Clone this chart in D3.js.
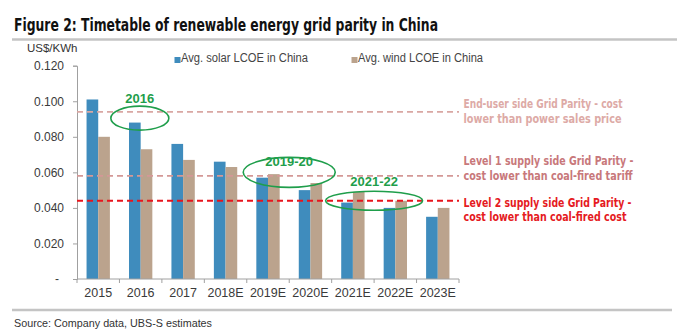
<!DOCTYPE html>
<html>
<head>
<meta charset="utf-8">
<script src="https://cdn.jsdelivr.net/npm/d3@7"></script>
<style>
  html, body { margin: 0; padding: 0; background: #fff; }
  svg { display: block; }
</style>
</head>
<body>
<div id="chart"></div>
<script>
// ---- data ----
const categories = ["2015", "2016", "2017", "2018E", "2019E", "2020E", "2021E", "2022E", "2023E"];
const seriesNames = ["Avg. solar LCOE in China", "Avg. wind LCOE in China"];
const solarValues = [0.101, 0.088, 0.076, 0.066, 0.057, 0.050, 0.043, 0.040, 0.035];
const windValues  = [0.080, 0.073, 0.067, 0.063, 0.059, 0.054, 0.049, 0.044, 0.040];
const yTicks = [0, 0.02, 0.04, 0.06, 0.08, 0.10, 0.12];
const refValues = [0.094, 0.058, 0.044];
const refLabels = [
  ["End-user side Grid Parity - cost", "lower than power sales price"],
  ["Level 1 supply side Grid Parity -", "cost lower than coal-fired tariff"],
  ["Level 2 supply side Grid Parity -", "cost lower than coal-fired cost"]
];
const periodLabels = ["2016", "2019-20", "2021-22"];
const periodRanges = [["2016", "2016"], ["2019E", "2020E"], ["2021E", "2022E"]];
const periodLevels = [0.0905, 0.0600, 0.0440];

// ---- layout ----
const W = 680, H = 330;
const pLeft = 77, pRight = 459, pTop = 65.7, pBottom = 279;
const colors = { solar: "#3F8CBD", wind: "#BBA38D" };
const refColors = ["#D9A7A3", "#D49896", "#E8141C"];
const refTextColors = ["#DDAAA6", "#C8787B", "#E51A22"];
const green = "#1F9E4B";

const svg = d3.select("#chart").append("svg").attr("width", W).attr("height", H);

// title
svg.append("text").attr("x", 14).attr("y", 31)
  .attr("font-family", "'Liberation Sans Narrow', 'DejaVu Sans Condensed', sans-serif")
  .attr("font-weight", "bold").attr("font-size", 18).attr("fill", "#111")
  .attr("textLength", 424).attr("lengthAdjust", "spacingAndGlyphs")
  .text("Figure 2: Timetable of renewable energy grid parity in China");
svg.append("line").attr("x1", 12).attr("x2", 677).attr("y1", 39.5).attr("y2", 39.5)
  .attr("stroke", "#C4C4C4").attr("stroke-width", 2.5);

// scales
const x0 = d3.scaleBand().domain(categories).range([pLeft, pRight]).paddingInner(0.45).paddingOuter(0.225);
const x1 = d3.scaleBand().domain(seriesNames).range([0, x0.bandwidth()]);
const y = d3.scaleLinear().domain([0, 0.12]).range([pBottom, pTop]);
const step = x0.step();

// unit label
svg.append("text").attr("x", 27).attr("y", 52)
  .attr("font-family", "'Liberation Sans', Arial, sans-serif").attr("font-size", 11.5).attr("fill", "#333")
  .text("US$/KWh");

// legend
const legend = svg.append("g").attr("font-family", "'Liberation Sans', Arial, sans-serif").attr("font-size", 12).attr("fill", "#444");
const legX = [174.5, 351.5], legW = [127, 125];
seriesNames.forEach((s, i) => {
  legend.append("rect").attr("x", legX[i]).attr("y", 57).attr("width", 6).attr("height", 6)
    .attr("fill", i === 0 ? colors.solar : colors.wind);
  legend.append("text").attr("x", legX[i] + 6.5).attr("y", 61.5)
    .attr("textLength", legW[i]).attr("lengthAdjust", "spacingAndGlyphs").text(s);
});

// bars
const rows = categories.map((c, i) => ({ cat: c, vals: [solarValues[i], windValues[i]] }));
const g = svg.append("g");
g.selectAll("g.cat").data(rows).join("g").attr("class", "cat")
  .attr("transform", d => `translate(${x0(d.cat)},0)`)
  .selectAll("rect").data(d => d.vals.map((v, j) => ({ s: seriesNames[j], v, j })))
  .join("rect")
  .attr("x", d => x1(d.s)).attr("width", x1.bandwidth())
  .attr("y", d => y(d.v)).attr("height", d => y(0) - y(d.v))
  .attr("fill", d => d.j === 0 ? colors.solar : colors.wind);

// y axis
const yAxis = svg.append("g").attr("transform", `translate(${pLeft},0)`)
  .call(d3.axisLeft(y).tickValues(yTicks).tickSize(4).tickPadding(9)
    .tickFormat(d => d === 0 ? "-" : d3.format(".3f")(d)));
yAxis.select(".domain").attr("stroke", "#A0A0A0");
yAxis.selectAll(".tick line").attr("stroke", "#A0A0A0");
yAxis.selectAll("text").attr("font-family", "'Liberation Sans', Arial, sans-serif").attr("font-size", 12).attr("fill", "#3a3a3a");
yAxis.selectAll(".tick text").filter(d => d === 0).attr("x", -20).attr("text-anchor", "middle");

// x axis
const xAxis = svg.append("g").attr("transform", `translate(0,${pBottom})`);
xAxis.append("line").attr("x1", pLeft).attr("x2", pRight).attr("stroke", "#A0A0A0");
const bounds = categories.map(c => x0(c) - step * x0.paddingInner() / 2).concat([pRight]);
xAxis.selectAll("line.t").data(bounds).join("line").attr("class", "t")
  .attr("x1", d => d).attr("x2", d => d).attr("y1", 0).attr("y2", 4).attr("stroke", "#A0A0A0");
xAxis.selectAll("text").data(categories).join("text")
  .attr("x", d => x0(d) + x0.bandwidth() / 2).attr("y", 18).attr("text-anchor", "middle")
  .attr("font-family", "'Liberation Sans Narrow', 'Liberation Sans', sans-serif").attr("font-size", 12.5).attr("fill", "#3a3a3a")
  .text(d => d);

// reference lines
refValues.forEach((v, i) => {
  svg.append("line").attr("x1", pLeft).attr("x2", pRight).attr("y1", y(v)).attr("y2", y(v))
    .attr("stroke", refColors[i]).attr("stroke-width", i === 2 ? 2 : 1.6)
    .attr("stroke-dasharray", "6,4");
});
const labelBase = [[108.3, 123.3], [165, 180], [207.3, 221]];
const labelW = [[159, 158], [170, 169], [168, 163]];
refLabels.forEach((lines, i) => {
  lines.forEach((t, k) => {
    svg.append("text").attr("x", 463.5).attr("y", labelBase[i][k])
      .attr("font-family", "'Liberation Sans Narrow', 'DejaVu Sans Condensed', sans-serif")
      .attr("font-weight", "bold").attr("font-size", 12.5).attr("fill", refTextColors[i])
      .attr("textLength", labelW[i][k]).attr("lengthAdjust", "spacingAndGlyphs")
      .text(t);
  });
});

// period ellipses and labels
const ellipseSpec = [{ rx: 29, ry: 12, ty: -15 }, { rx: 46, ry: 15, ty: -6.6 }, { rx: 48.5, ry: 9.5, ty: -14.3 }];
periodLabels.forEach((lab, i) => {
  const [a, b] = periodRanges[i];
  let cx;
  if (a === b) cx = x0(a) + x1(seriesNames[0]) + x1.bandwidth() / 2 + 5;
  else cx = (x0(a) + x0(b) + x0.bandwidth()) / 2;
  const cy = y(periodLevels[i]);
  svg.append("ellipse").attr("cx", cx).attr("cy", cy)
    .attr("rx", ellipseSpec[i].rx).attr("ry", ellipseSpec[i].ry)
    .attr("fill", "none").attr("stroke", green).attr("stroke-width", 1.6);
  svg.append("text").attr("x", cx).attr("y", cy + ellipseSpec[i].ty)
    .attr("text-anchor", "middle")
    .attr("font-family", "'Liberation Sans', Arial, sans-serif").attr("font-weight", "bold")
    .attr("font-size", 13).attr("fill", green).text(lab);
});

// footer
svg.append("line").attr("x1", 12).attr("x2", 672).attr("y1", 310).attr("y2", 310)
  .attr("stroke", "#C4C4C4").attr("stroke-width", 2.5);
svg.append("text").attr("x", 14).attr("y", 326.5)
  .attr("font-family", "'Liberation Sans', Arial, sans-serif").attr("font-size", 11.5).attr("fill", "#333")
  .attr("textLength", 198).attr("lengthAdjust", "spacingAndGlyphs")
  .text("Source: Company data, UBS-S estimates");
</script>
</body>
</html>
